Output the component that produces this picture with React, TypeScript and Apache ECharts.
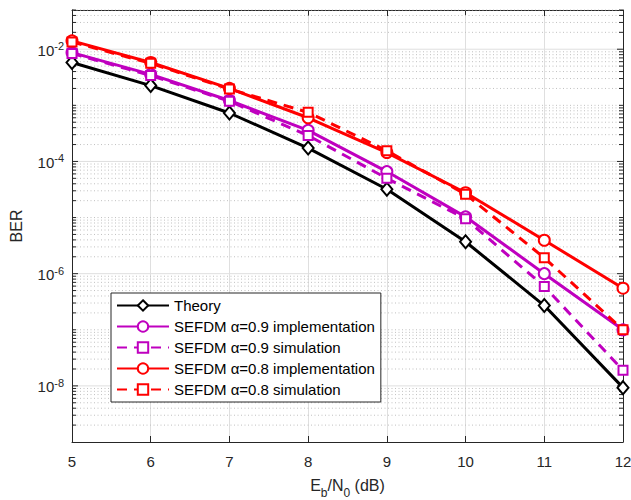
import React, { useEffect, useRef } from 'react';
import * as echarts from 'echarts';

const ebn0 = [5, 6, 7, 8, 9, 10, 11, 12];
const theory = [5.8e-3, 2.25e-3, 7.3e-4, 1.73e-4, 3.2e-5, 3.7e-6, 2.7e-7, 9.3e-9];
const impl09 = [8.7e-3, 3.56e-3, 1.22e-3, 3.58e-4, 6.6e-5, 1.03e-5, 1.0e-6, 1.0e-7];
const sim09 = [8.4e-3, 3.4e-3, 1.18e-3, 2.9e-4, 5.0e-5, 9.5e-6, 5.9e-7, 1.9e-8];
const impl08 = [1.41e-2, 5.8e-3, 2.0e-3, 6.0e-4, 1.44e-4, 2.77e-5, 3.94e-6, 5.5e-7];
const sim08 = [1.35e-2, 5.6e-3, 1.95e-3, 7.5e-4, 1.55e-4, 2.6e-5, 1.92e-6, 1.0e-7];

const seriesNames = [
  'Theory',
  'SEFDM α=0.9 implementation',
  'SEFDM α=0.9 simulation',
  'SEFDM α=0.8 implementation',
  'SEFDM α=0.8 simulation',
];
const xMin = 5;
const xMax = 12;
const yMinExp = -9;
const yMaxValue = 0.05;
const yLabelExps = [-8, -6, -4, -2];

const FONT = '"Liberation Sans", Arial, Helvetica, sans-serif';
const AXIS_COLOR = '#262626';
const PURPLE = '#bf00bf';
const RED = '#ff0000';

export default function App() {
  const ref = useRef<HTMLDivElement>(null);
  useEffect(() => {
    const chart = echarts.init(ref.current!, null, { renderer: 'svg' });
    const yMax = Math.log10(yMaxValue);

    const gridData: any[] = [];
    for (let n = yMinExp; n <= Math.floor(yMax); n++) {
      for (let k = 1; k <= 9; k++) {
        const v = Math.log10(k * Math.pow(10, n));
        if (v > yMax + 1e-9) continue;
        if (n === yMinExp && k === 1) continue;
        const major = k === 1 && yLabelExps.indexOf(n) >= 0;
        gridData.push([xMin, v, major ? 1 : 0]);
      }
    }

    const mk = (name: string, vals: number[], color: string, symbol: string, size: any, dashed: boolean) => ({
      name,
      type: 'line',
      data: ebn0.map((x, i) => [x, Math.log10(vals[i])]),
      symbol,
      symbolSize: size,
      showAllSymbol: true,
      lineStyle: { width: 3, color, type: dashed ? [10, 7] : 'solid' },
      itemStyle: { color, borderWidth: 2 },
      z: 3,
      silent: true,
    });

    const option: any = {
      animation: false,
      textStyle: { fontFamily: FONT },
      grid: { left: 72, right: 8, top: 10, bottom: 58, containLabel: false, outerBoundsMode: 'none' },
      xAxis: [
        {
          type: 'value', min: xMin, max: xMax, interval: 1,
          name: '{n|E}{sub|b}{n|/N}{sub|0}{n| (dB)}',
          nameLocation: 'middle', nameGap: 35,
          nameTextStyle: {
            rich: {
              n: { fontSize: 16, color: AXIS_COLOR, fontFamily: FONT, lineHeight: 16, verticalAlign: 'top' },
              sub: { fontSize: 12, color: AXIS_COLOR, fontFamily: FONT, lineHeight: 22, verticalAlign: 'bottom' },
            },
          },
          axisLine: { show: true, onZero: false, lineStyle: { color: AXIS_COLOR, width: 1 } },
          axisTick: { show: true, inside: true, length: 6, lineStyle: { color: AXIS_COLOR } },
          axisLabel: { fontSize: 15, color: AXIS_COLOR, margin: 12, fontFamily: FONT },
          splitLine: { show: true, lineStyle: { color: '#dfdfdf', width: 1 } },
        },
        {
          type: 'value', min: xMin, max: xMax, interval: 1, position: 'top',
          axisLine: { show: true, onZero: false, lineStyle: { color: AXIS_COLOR, width: 1 } },
          axisTick: { show: true, inside: true, length: 6, lineStyle: { color: AXIS_COLOR } },
          axisLabel: { show: false },
          splitLine: { show: false },
        },
      ],
      yAxis: [
        {
          type: 'value', min: yMinExp, max: yMax, interval: 1,
          name: 'BER', nameLocation: 'middle', nameGap: 48,
          nameTextStyle: { fontSize: 16, color: AXIS_COLOR, fontFamily: FONT },
          axisLine: { show: true, onZero: false, lineStyle: { color: AXIS_COLOR, width: 1 } },
          axisTick: { show: false },
          axisLabel: {
            margin: 8,
            formatter: (v: number) => {
              const r = Math.round(v);
              if (Math.abs(v - r) > 1e-6 || yLabelExps.indexOf(r) < 0) return '';
              return `{b|10}{s|${r}}`;
            },
            rich: {
              b: { fontSize: 15, color: AXIS_COLOR, fontFamily: FONT, lineHeight: 17, verticalAlign: 'bottom' },
              s: { fontSize: 11, color: AXIS_COLOR, fontFamily: FONT, lineHeight: 15, verticalAlign: 'top' },
            },
          },
          splitLine: { show: false },
        },
        {
          type: 'value', min: yMinExp, max: yMax, interval: 1, position: 'right',
          axisLine: { show: true, onZero: false, lineStyle: { color: AXIS_COLOR, width: 1 } },
          axisTick: { show: false },
          axisLabel: { show: false },
          splitLine: { show: false },
        },
      ],
      legend: {
        orient: 'vertical', left: 111, top: 293,
        data: seriesNames,
        backgroundColor: '#ffffff', borderColor: AXIS_COLOR, borderWidth: 1,
        padding: [5, 6, 5, 5], itemWidth: 52, itemHeight: 13, itemGap: 6,
        textStyle: { fontSize: 15, color: '#000', fontFamily: FONT },
        selectedMode: false,
      },
      series: [
        {
          type: 'custom',
          name: 'grid',
          coordinateSystem: 'cartesian2d',
          xAxisIndex: 0, yAxisIndex: 0,
          silent: true,
          z: 1,
          encode: { x: 0, y: 1 },
          data: gridData,
          renderItem: (params: any, api: any) => {
            const v = api.value(1);
            const major = api.value(2) === 1;
            const p1 = api.coord([xMin, v]);
            const p2 = api.coord([xMax, v]);
            const tl = major ? 6 : 4;
            return {
              type: 'group',
              children: [
                {
                  type: 'line',
                  shape: { x1: p1[0] + 1, y1: p1[1], x2: p2[0] - 1, y2: p2[1] },
                  style: major
                    ? { stroke: '#dfdfdf', lineWidth: 1 }
                    : { stroke: '#c0c0c0', lineWidth: 1, lineDash: [1, 2.5] },
                },
                {
                  type: 'line',
                  shape: { x1: p1[0], y1: p1[1], x2: p1[0] + tl, y2: p1[1] },
                  style: { stroke: AXIS_COLOR, lineWidth: 1 },
                },
                {
                  type: 'line',
                  shape: { x1: p2[0] - tl, y1: p2[1], x2: p2[0], y2: p2[1] },
                  style: { stroke: AXIS_COLOR, lineWidth: 1 },
                },
              ],
            };
          },
        },
        mk(seriesNames[0], theory, '#000000', 'emptyDiamond', [11, 13], false),
        mk(seriesNames[1], impl09, PURPLE, 'emptyCircle', 11, false),
        mk(seriesNames[2], sim09, PURPLE, 'emptyRect', 9, true),
        mk(seriesNames[3], impl08, RED, 'emptyCircle', 11, false),
        mk(seriesNames[4], sim08, RED, 'emptyRect', 9, true),
      ],
    };
    chart.setOption(option);
    return () => chart.dispose();
  }, []);
  return (
    <div
      ref={ref}
      style={{ position: 'fixed', left: 0, top: 0, width: 631, height: 500, background: '#ffffff' }}
    />
  );
}
